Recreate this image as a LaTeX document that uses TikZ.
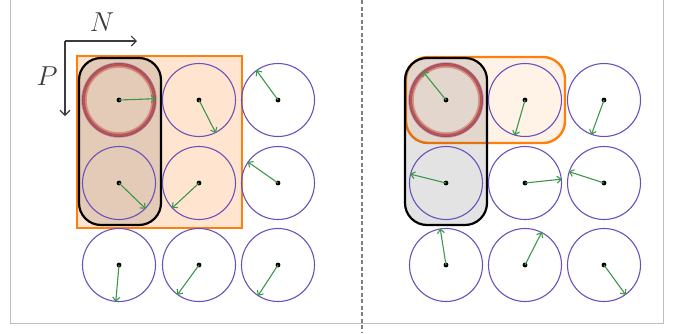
\documentclass[tikz,border=0pt]{standalone}
\usepackage{tikz}
\usetikzlibrary{arrows.meta,positioning}
\definecolor{cellviolet}{RGB}{108,80,186}
\definecolor{vecgreen}{RGB}{60,150,75}
\definecolor{blockorange}{RGB}{255,127,14}
\definecolor{ringred}{RGB}{185,75,68}
\definecolor{framegray}{RGB}{190,190,190}
\definecolor{axisgray}{RGB}{60,60,60}

\begin{document}
\begin{tikzpicture}[x=1pt, y=-1pt,
  cell/.style={circle, draw=cellviolet, line width=1.1pt, minimum size=73pt, inner sep=0pt},
  vec/.style={draw=vecgreen, line width=1.1pt, -{Straight Barb[length=4pt,width=7pt]}},
  tilebox/.style={draw=blockorange, line width=1.4pt, fill=blockorange!20, minimum width=165pt, minimum height=172pt, inner sep=0pt},
  rowbox/.style={draw=blockorange, line width=2.4pt, fill=blockorange!10, rounded corners=22pt, minimum width=159pt, minimum height=86pt, inner sep=0pt},
  colbox/.style={draw=black, line width=2.2pt, fill=black, fill opacity=0.11, rounded corners=22pt, minimum width=82pt, minimum height=167pt, inner sep=0pt},
  axis/.style={draw=axisgray, line width=1.1pt, -{Straight Barb[length=5pt,width=10pt]}},
  axislabel/.style={text=axisgray, font=\Large, scale=1.9}]
  \useasboundingbox (0,0) rectangle (686,333);

  % frame and divider
  \draw[framegray, line width=0.8pt] (10,0) -- (10,323) -- (663,323) -- (663,0);
  \draw[gray, line width=1.2pt, dash pattern=on 4pt off 2.5pt] (362,0) -- (362,333);

  % axes
  \coordinate (origin) at (65,41);
  \coordinate (nend) at (137,41);
  \coordinate (pend) at (65,116);
  \draw[axis] (origin) -- (nend);
  \draw[axis] (origin) -- (pend);
  \node[axislabel] (nlabel) at (102,22) {$N$};
  \node[axislabel] (plabel) at (47,76) {$P$};

  % blocks, left panel
  \node[tilebox] (tile) at (159.5,142) {};
  \node[colbox] (colleft) at (120,141.5) {};

  % blocks, right panel
  \node[rowbox] (rowright) at (485.5,100) {};
  \node[colbox] (colright) at (446,141.5) {};

  % cells
  \foreach \name/\cx/\cy in {a11/119/100, a12/199/100, a13/278/100,
                             a21/119/183, a22/199/183, a23/278/183,
                             a31/119/265, a32/199/265, a33/278/265,
                             b11/446/100, b12/525/100, b13/604/100,
                             b21/446/183, b22/525/183, b23/604/183,
                             b31/446/265, b32/525/265, b33/604/265}
    \node[cell] (\name) at (\cx,\cy) {};

  % highlighted cell
  \draw[ringred, line width=5.5pt, opacity=0.45] (a11.center) circle (35pt);
  \draw[ringred, line width=2.2pt, opacity=0.85] (a11.center) circle (35pt);
  \draw[ringred, line width=5.5pt, opacity=0.45] (b11.center) circle (35pt);
  \draw[ringred, line width=2.2pt, opacity=0.85] (b11.center) circle (35pt);

  % vectors
  \foreach \name/\ang in {a11/2, a12/-63, a13/126, a21/-44, a22/-137, a23/145,
                          a31/-95, a32/-126, a33/-123,
                          b11/129, b12/-106, b13/-110, b21/166, b22/6, b23/162,
                          b31/99, b32/63, b33/-54}
  {
    \fill (\name.center) circle (2.4pt);
    \draw[vec] (\name.center) -- (\name.\ang);
  }
\end{tikzpicture}
\end{document}
